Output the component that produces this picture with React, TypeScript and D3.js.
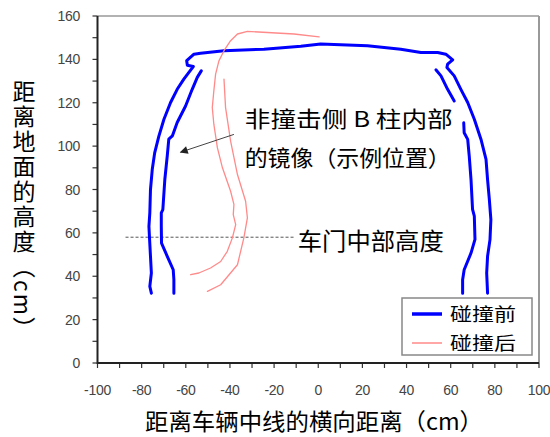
import * as d3 from "d3";

// 碰撞前 (blue) — outer contour, then the two inner B-pillar lines
const beforeOuter: [number, number][] = [
  [-75.6, 32.2], [-76.3, 35.3], [-75.6, 41.5], [-76.0, 49.2], [-76.4, 56.9], [-76.7, 63.0],
  [-76.3, 69.2], [-76.0, 80.0], [-75.2, 89.2], [-74.1, 96.9], [-72.2, 104.6], [-69.9, 112.4],
  [-66.9, 120.1], [-63.9, 126.2], [-60.9, 130.9], [-58.6, 134.0], [-56.6, 136.7], [-59.3, 137.3],
  [-59.6, 139.4], [-56.3, 142.4], [-53.3, 142.8], [-42.7, 144.0], [-24.6, 144.7], [-7.9, 146.0],
  [1.1, 147.1], [22.3, 146.3], [37.4, 144.7], [46.5, 143.2], [54.1, 143.2], [57.8, 142.4],
  [60.9, 139.8], [58.6, 137.8], [58.3, 136.3], [61.6, 132.4], [64.6, 126.2], [67.7, 120.1],
  [70.7, 112.4], [73.7, 103.2], [76.0, 93.9], [76.7, 84.6], [77.5, 75.4], [78.2, 66.1],
  [77.8, 56.9], [76.7, 49.2], [76.3, 41.5], [76.7, 32.2],
];
const beforeInnerLeft: [number, number][] = [
  [-65.4, 32.2], [-65.4, 38.5], [-65.7, 43.0], [-68.4, 49.2], [-71.0, 55.3], [-71.1, 63.0],
  [-71.1, 69.2], [-70.4, 70.7], [-69.5, 84.6], [-68.4, 95.5], [-67.7, 103.2], [-66.1, 104.7],
  [-63.9, 110.9], [-60.1, 118.5], [-57.1, 126.2], [-54.8, 131.7], [-53.0, 134.7],
];
const beforeInnerRightTop: [number, number][] = [
  [53.3, 135.2], [55.6, 132.4], [58.6, 126.2], [61.6, 120.8],
];
const beforeInnerRight: [number, number][] = [
  [65.9, 110.8], [66.1, 106.2], [67.7, 103.1], [68.4, 95.4], [69.2, 84.6], [69.9, 70.8],
  [70.7, 67.7], [71.0, 57.0], [69.2, 50.7], [66.1, 43.0], [65.4, 38.4], [65.4, 32.2],
];

// 碰撞后 (red)
const afterOuter: [number, number][] = [
  [0.4, 150.4], [-11.0, 151.7], [-32.1, 152.9], [-36.6, 151.7], [-39.7, 148.6], [-42.7, 144.0],
  [-45.0, 139.3], [-46.5, 133.2], [-47.3, 125.5], [-48.0, 117.8], [-47.3, 110.1], [-45.7, 99.3],
  [-43.4, 90.0], [-39.7, 79.2], [-38.2, 73.1], [-38.5, 68.4], [-37.4, 63.8], [-38.9, 57.7],
  [-41.2, 51.5], [-44.2, 46.8], [-48.8, 43.8], [-54.1, 41.5], [-57.8, 40.7],
];
const afterInner: [number, number][] = [
  [-42.7, 130.9], [-42.0, 117.9], [-39.7, 102.3], [-36.6, 86.9], [-32.9, 74.6], [-32.1, 66.9],
  [-33.7, 57.7], [-36.6, 45.3], [-44.2, 36.1], [-50.2, 33.0],
];

const xTicks = d3.range(-100, 101, 10);
const yTicks = d3.range(0, 161, 10);
const xLabels = d3.range(-100, 101, 20);
const yLabels = d3.range(0, 161, 20);

const doorHeight = 58;
const doorRange = [-87.3, -11.1];

const CJK = "'Noto Sans CJK SC', sans-serif";
const NUM = "'Liberation Sans', Arial, sans-serif";

export default function App() {
  const width = 550;
  const height = 437;
  const x = d3.scaleLinear().domain([-100, 100]).range([97.5, 539]);
  const y = d3.scaleLinear().domain([0, 160]).range([363, 16]);
  const line = d3.line<[number, number]>().x(d => x(d[0])).y(d => y(d[1]));

  const series = [
    { name: "碰撞前", color: "#0000ff", w: 3, parts: [beforeOuter, beforeInnerLeft, beforeInnerRightTop, beforeInnerRight] },
    { name: "碰撞后", color: "#ff8a8a", w: 1.3, parts: [afterOuter, afterInner] },
  ];

  return (
    <svg width={width} height={height} style={{ position: "absolute", left: 0, top: 0, background: "#fff" }}>
      <defs>
        <marker id="ah" viewBox="0 0 10 10" refX="9" refY="5" markerWidth="10" markerHeight="8" orient="auto-start-reverse" markerUnits="userSpaceOnUse">
          <path d="M0,0 L10,5 L0,10 z" fill="#222" />
        </marker>
      </defs>

      {/* frame */}
      <line x1={x(-100)} x2={x(100)} y1={y(160)} y2={y(160)} stroke="#999" strokeWidth={1.5} />
      <line x1={x(100)} x2={x(100)} y1={y(160)} y2={y(0)} stroke="#999" strokeWidth={2} />

      {/* ticks */}
      {xTicks.map(t => (
        <line key={"xt" + t} x1={x(t)} x2={x(t)} y1={y(0)} y2={y(0) + 5} stroke="#333" strokeWidth={1.2} />
      ))}
      {yTicks.map(t => (
        <line key={"yt" + t} x1={x(-100) - 5} x2={x(-100)} y1={y(t)} y2={y(t)} stroke="#333" strokeWidth={1.2} />
      ))}
      {xLabels.map(t => (
        <text key={"xl" + t} x={x(t)} y={395} textAnchor="middle" fontFamily={NUM} fontSize={14} fill="#444" letterSpacing={-0.3}>{t}</text>
      ))}
      {yLabels.map(t => (
        <text key={"yl" + t} x={80} y={y(t) + 5} textAnchor="end" fontFamily={NUM} fontSize={14} fill="#444" letterSpacing={-0.3}>{t}</text>
      ))}

      {/* axes */}
      <line x1={x(-100)} x2={x(-100)} y1={y(160)} y2={y(0) + 1} stroke="#222" strokeWidth={2} />
      <line x1={x(-100)} x2={x(100)} y1={y(0)} y2={y(0)} stroke="#222" strokeWidth={2} />

      {/* door height reference */}
      <line x1={x(doorRange[0])} x2={x(doorRange[1])} y1={y(doorHeight)} y2={y(doorHeight)} stroke="#555" strokeWidth={1} strokeDasharray="3,2" />

      {series.map(s => s.parts.map((p, i) => (
        <path key={s.name + i} d={line(p) ?? ""} fill="none" stroke={s.color} strokeWidth={s.w} strokeLinejoin="round" strokeLinecap="round" />
      )))}

      {/* annotation */}
      <line x1={x(-38.2)} y1={y(105.4)} x2={x(-62.4)} y2={y(97.2)} stroke="#444" strokeWidth={1} markerEnd="url(#ah)" />
      <text x={x(-33.3)} y={126.5} fontFamily={CJK} fontSize={22} fill="#000" textLength={208} lengthAdjust="spacingAndGlyphs">非撞击侧 B 柱内部</text>
      <text x={x(-33.3)} y={165.5} fontFamily={CJK} fontSize={22} fill="#000" textLength={206} lengthAdjust="spacingAndGlyphs">的镜像（示例位置）</text>
      <text x={x(-9.3)} y={250} fontFamily={CJK} fontSize={24} fill="#000" textLength={146} lengthAdjust="spacingAndGlyphs">车门中部高度</text>

      {/* legend */}
      <rect x={402} y={298} width={130} height={57} fill="#fff" stroke="#888" strokeWidth={1.5} />
      {series.map((s, i) => (
        <g key={"lg" + s.name}>
          <line x1={412} x2={442} y1={314 + i * 29} y2={314 + i * 29} stroke={s.color} strokeWidth={s.w === 3 ? 3.5 : 1.5} />
          <text x={450} y={321 + i * 29} fontFamily={CJK} fontSize={18} fill="#000" textLength={66} lengthAdjust="spacingAndGlyphs">{s.name}</text>
        </g>
      ))}

      {/* axis titles */}
      <text x={145} y={430} fontFamily={CJK} fontSize={23} fill="#000" textLength={338} lengthAdjust="spacingAndGlyphs">距离车辆中线的横向距离（cm）</text>
      <text x={24} y={80} fontFamily={CJK} fontSize={23} fill="#000" letterSpacing={2} style={{ writingMode: "vertical-rl" }}>距离地面的高度（cm）</text>
    </svg>
  );
}
